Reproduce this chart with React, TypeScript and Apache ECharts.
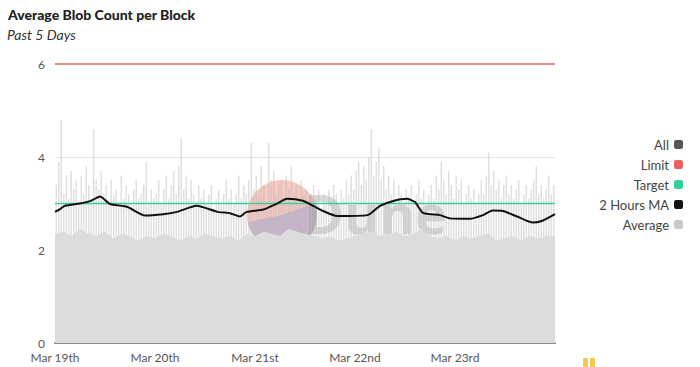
import React, { useEffect, useRef } from "react";
import * as echarts from "echarts";

const dayLabels = ["Mar 19th", "Mar 20th", "Mar 21st", "Mar 22nd", "Mar 23rd", ""];
const yTicks = [0, 2, 4, 6];
const limitValue = 6;
const targetValue = 3;
const totalHours = 120;

// 2 Hours MA: [hour, value]
const maHours = [0, 1.2, 2.4, 6, 8.4, 10.8, 13.2, 17.3, 21.6, 26, 29.3, 34, 39, 42, 44.4, 46, 50, 53.3, 55.7, 59.5, 62, 64.3, 67.7, 75, 78, 81, 84.5, 86.4, 88.3, 92.4, 94.8, 99.6, 102.7, 105, 107.5, 110.9, 114.7, 117, 120];
const maValues = [2.82, 2.88, 2.95, 3.0, 3.05, 3.15, 2.99, 2.93, 2.74, 2.77, 2.82, 2.95, 2.82, 2.79, 2.72, 2.82, 2.87, 3.0, 3.1, 3.06, 2.95, 2.84, 2.73, 2.75, 2.95, 3.05, 3.1, 3.03, 2.8, 2.75, 2.68, 2.67, 2.75, 2.85, 2.84, 2.72, 2.59, 2.63, 2.77];

// Average base level, every 2 hours
const averageValues = [2.35, 2.4, 2.3, 2.45, 2.35, 2.3, 2.4, 2.25, 2.35, 2.3, 2.2, 2.3, 2.25, 2.35, 2.3, 2.2, 2.3, 2.25, 2.35, 2.3, 2.25, 2.3, 2.2, 2.35, 2.3, 2.4, 2.35, 2.3, 2.45, 2.4, 2.35, 2.3, 2.25, 2.3, 2.2, 2.25, 2.3, 2.35, 2.4, 2.3, 2.35, 2.4, 2.3, 2.35, 2.45, 2.3, 2.25, 2.3, 2.2, 2.3, 2.25, 2.3, 2.35, 2.2, 2.25, 2.3, 2.2, 2.3, 2.25, 2.3, 2.3];

// All blocks (spikes), every 0.6 hours
const allValues = [
  3.4, 3.9, 4.8, 3.2, 3.6, 3.1, 3.7, 3.3, 3.5, 3.0,
  3.6, 3.2, 3.8, 3.4, 3.1, 4.6, 3.5, 3.3, 3.7, 3.2,
  3.4, 3.0, 3.5, 3.2, 3.3, 2.9, 3.6, 3.1, 3.4, 3.2,
  3.0, 3.3, 3.5, 3.1, 3.2, 3.4, 3.9, 3.0, 3.3, 3.1,
  3.2, 3.5, 3.0, 3.3, 3.6, 3.1, 3.4, 3.7, 3.2, 3.8,
  4.4, 3.3, 3.6, 3.1, 3.5, 3.2, 3.0, 3.4, 3.1, 3.3,
  3.0, 3.2, 3.4, 2.9, 3.1, 3.3, 3.0, 3.2, 3.5, 3.1,
  3.3, 3.0, 3.2, 3.6, 3.1, 3.4, 3.2, 3.5, 4.3, 3.3,
  3.6, 3.2, 3.8, 3.4, 3.1, 4.3, 3.5, 3.7, 3.2, 3.4,
  3.5, 3.1, 3.6, 3.3, 3.8, 3.2, 3.4, 3.0, 3.5, 3.2,
  3.3, 3.0, 3.2, 3.4, 3.1, 3.3, 2.9, 3.2, 3.0, 3.3,
  3.1, 3.4, 3.2, 3.0, 3.3, 3.1, 3.5, 3.2, 3.6, 3.3,
  3.7, 3.9, 3.4, 3.8, 3.5, 4.0, 4.6, 3.6, 3.9, 4.2,
  3.5, 3.8, 3.3, 3.6, 3.2, 3.5, 3.1, 3.4, 3.2, 3.0,
  3.3, 3.1, 3.4, 3.0, 3.2, 3.5, 3.1, 3.3, 3.0, 3.2,
  3.4, 3.1, 3.6, 3.3, 3.9, 3.5, 3.2, 3.7, 3.4, 3.1,
  3.6, 3.3, 3.5, 3.0, 3.2, 3.4, 3.1, 3.3, 3.0, 3.2,
  3.5, 3.2, 3.6, 4.1, 3.4, 3.7, 3.3, 3.5, 3.1, 3.4,
  3.6, 3.2, 3.4, 3.1, 3.3, 3.5, 3.0, 3.2, 3.4, 3.1,
  3.3, 3.5, 3.8, 3.2, 3.4, 3.1, 3.3, 3.6, 3.2, 3.4,
];

const FONT = "Lato, 'Noto Sans', sans-serif";

export default function App() {
  const ref = useRef<HTMLDivElement>(null);
  useEffect(() => {
    if (!ref.current) return;
    const chart = echarts.init(ref.current, undefined, { renderer: "svg" });
    const allData = allValues.map((v, i) => [i * 0.6 + 0.3, v]);
    const avgData = averageValues.map((v, i) => [i * 2, v]);
    const maData = maValues.map((v, i) => [maHours[i], v]);
    chart.setOption({
      animation: false,
      backgroundColor: "#ffffff",
      title: [
        { text: "Average Blob Count per Block", left: 3, top: 2, textStyle: { fontFamily: FONT, fontSize: 14, fontWeight: 900, color: "#222" } },
        { text: "Past 5 Days", left: 2, top: 22, textStyle: { fontFamily: FONT, fontSize: 14, fontStyle: "italic", fontWeight: "normal", color: "#333" } },
      ],
      legend: {
        orient: "vertical",
        right: 12,
        top: 133,
        align: "right",
        icon: "roundRect",
        itemWidth: 9,
        itemHeight: 9,
        itemGap: 7,
        textStyle: { fontFamily: FONT, fontSize: 13, color: "#444" },
        data: [
          { name: "All", itemStyle: { color: "#555555", opacity: 1 } },
          { name: "Limit", itemStyle: { color: "#e9615a" } },
          { name: "Target", itemStyle: { color: "#2fd09a" } },
          { name: "2 Hours MA", itemStyle: { color: "#111111" } },
          { name: "Average", itemStyle: { color: "#c8c8c8" } },
        ],
      },
      grid: { left: 55, right: 145, top: 64, bottom: 24 },
      xAxis: {
        type: "value",
        min: 0,
        max: totalHours,
        interval: 24,
        axisLine: { show: true, lineStyle: { color: "#8a8a8a", width: 2 } },
        axisTick: { show: false },
        splitLine: { show: false },
        axisLabel: {
          fontFamily: FONT,
          fontSize: 12,
          color: "#555",
          margin: 8,
          formatter: (v: number) => dayLabels[Math.round(v / 24)] ?? "",
        },
      },
      yAxis: {
        type: "value",
        min: yTicks[0],
        max: yTicks[yTicks.length - 1],
        interval: 2,
        axisLine: { show: false },
        axisTick: { show: false },
        splitLine: { lineStyle: { color: "#e4e4e4", width: 1 } },
        axisLabel: { fontFamily: FONT, fontSize: 12, color: "#555", margin: 10 },
      },
      graphic: [
        {
          type: "group",
          z: 100,
          children: [
            { type: "circle", shape: { cx: 282, cy: 215, r: 35 }, style: { fill: "rgba(240,155,140,0.55)" } },
            { type: "sector", shape: { cx: 282, cy: 215, r: 35, r0: 0, startAngle: -0.35, endAngle: Math.PI - 0.2 }, style: { fill: "rgba(160,160,210,0.55)" } },
            { type: "text", x: 304, y: 186, style: { text: "Dune", fontFamily: "'Open Sans', sans-serif", fontSize: 54, fontWeight: "bold", fill: "rgba(140,140,140,0.33)" } },
          ],
        },
        { type: "rect", shape: { x: 583, y: 358, width: 5, height: 9, r: 1 }, style: { fill: "#f2c94c" } },
        { type: "rect", shape: { x: 590, y: 358, width: 5, height: 9, r: 1 }, style: { fill: "#f2c94c" } },
      ],
      series: [
        {
          name: "All",
          type: "bar",
          data: allData,
          barWidth: 1.4,
          itemStyle: { color: "rgba(190,190,190,0.5)" },
          z: 1,
        },
        {
          name: "Average",
          type: "line",
          data: avgData,
          showSymbol: false,
          symbol: "none",
          lineStyle: { width: 0, color: "#c8c8c8" },
          areaStyle: { color: "#dcdcdc", opacity: 1 },
          z: 2,
        },
        {
          name: "Target",
          type: "line",
          data: [[0, targetValue], [totalHours, targetValue]],
          symbol: "none",
          lineStyle: { color: "#3ccf9c", width: 1.5 },
          z: 3,
        },
        {
          name: "2 Hours MA",
          type: "line",
          data: maData,
          symbol: "none",
          smooth: 0.2,
          lineStyle: { color: "#111111", width: 2 },
          z: 4,
        },
        {
          name: "Limit",
          type: "line",
          data: [[0, limitValue], [totalHours, limitValue]],
          symbol: "none",
          lineStyle: { color: "#f08c80", width: 2 },
          z: 5,
        },
      ],
    });
    return () => chart.dispose();
  }, []);
  return <div ref={ref} style={{ position: "fixed", left: 0, top: 0, width: 700, height: 367 }} />;
}
